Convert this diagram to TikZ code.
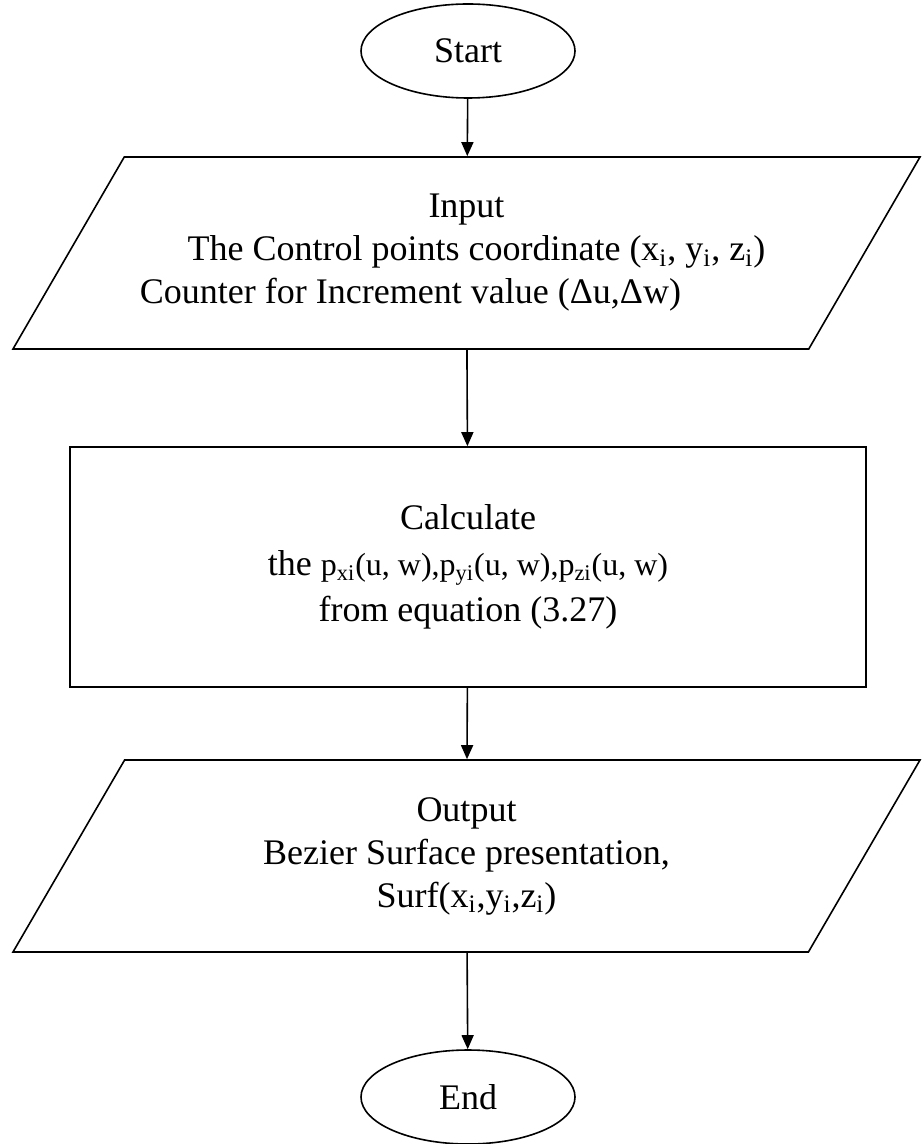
\documentclass[tikz,border=0pt]{standalone}
\usepackage{fontspec}
\setmainfont{Liberation Serif}
\usetikzlibrary{shapes.geometric, arrows.meta}

\begin{document}
\begin{tikzpicture}[
    x=0.5pt, y=-0.5pt,
    term/.style={draw=black, line width=0.8pt, ellipse, minimum width=107pt,
                 minimum height=47pt, inner sep=0pt,
                 font=\fontsize{18}{21.5}\selectfont},
    iobox/.style={draw=black, line width=0.8pt, trapezium,
                  trapezium left angle=46.5, trapezium right angle=133.5,
                  trapezium stretches body, minimum width=453.5pt,
                  minimum height=96pt, inner sep=0pt, align=center,
                  font=\fontsize{18}{21.5}\selectfont},
    procbox/.style={draw=black, line width=0.8pt, rectangle,
                    minimum width=398pt, minimum height=120pt, inner sep=0pt,
                    align=center, font=\fontsize{18}{23}\selectfont},
    arr/.style={-{Triangle[length=7pt, width=6pt]}, line width=0.8pt, black}
]

\useasboundingbox (0,0) rectangle (921,1144);

% Debut
\node[term] (start) at (468,51) {Start};

% Entree
\node[iobox] (input) at (466.5,253)
    {Input\\
     \hspace*{10pt}The Control points coordinate (x\textsubscript{i}, y\textsubscript{i}, z\textsubscript{i})\\
     Counter for Increment value (Δu,Δw)\hspace*{56pt}};

% Calcul
\node[procbox] (calc) at (468,567)
    {Calculate\\
     the {\fontsize{16}{23}\selectfont p\textsubscript{xi}(u, w),p\textsubscript{yi}(u, w),p\textsubscript{zi}(u, w)}\\
     from equation (3.27)};

% Sortie
\node[iobox] (output) at (466.5,856)
    {Output\\
     Bezier Surface presentation,\\
     Surf(x\textsubscript{i},y\textsubscript{i},z\textsubscript{i})};

% Fin
\node[term] (stop) at (468,1097) {End};

% Fleches
\draw[arr] (start) -- (input);
\draw[arr] (input) -- (calc);
\draw[arr] (calc) -- (output);
\draw[arr] (output) -- (stop);

\end{tikzpicture}
\end{document}
